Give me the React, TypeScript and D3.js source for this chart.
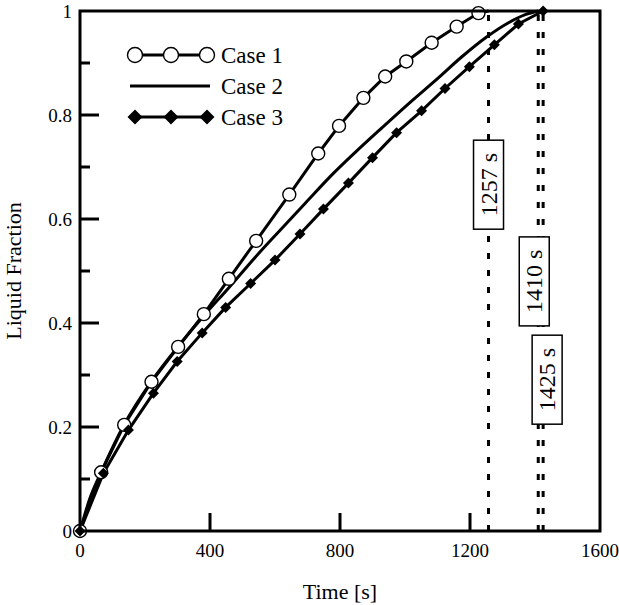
import React from "react";
import * as d3 from "d3";

// Case 1 (open circles)
const case1Time = [0, 65, 136, 220, 302, 381, 458, 542, 644, 733, 797, 872, 939, 1004, 1082, 1159, 1226, 1257];
const case1Frac = [0, 0.113, 0.204, 0.287, 0.354, 0.417, 0.485, 0.558, 0.647, 0.726, 0.779, 0.833, 0.874, 0.903, 0.939, 0.97, 0.996, 1];

// Case 2 (plain line)
const case2Time = [0, 30, 65, 136, 220, 302, 381, 458, 540, 615, 700, 769, 850, 923, 1015, 1100, 1175, 1251, 1320, 1370, 1410];
const case2Frac = [0, 0.062, 0.113, 0.205, 0.288, 0.355, 0.414, 0.468, 0.527, 0.578, 0.635, 0.681, 0.73, 0.772, 0.824, 0.87, 0.912, 0.95, 0.978, 0.993, 1];

// Case 3 (filled diamonds)
const case3Time = [0, 72, 149, 226, 299, 376, 448, 525, 600, 677, 749, 826, 900, 974, 1051, 1123, 1198, 1275, 1349, 1425];
const case3Frac = [0, 0.111, 0.194, 0.265, 0.326, 0.381, 0.43, 0.476, 0.521, 0.571, 0.619, 0.669, 0.718, 0.766, 0.808, 0.851, 0.893, 0.935, 0.975, 1];

const legendNames = ["Case 1", "Case 2", "Case 3"];

const endTimes = [1257, 1410, 1425];
const endLabels = ["1257 s", "1410 s", "1425 s"];

const xTicks = [0, 400, 800, 1200, 1600];
const yTicks = [0, 0.2, 0.4, 0.6, 0.8, 1];
const yMinorTicks = [0.1, 0.3, 0.5, 0.7, 0.9];

const W = 619;
const H = 605;
const left = 80;
const right = 600;
const top = 11;
const bottom = 531;
const FONT = "'Liberation Serif', 'Times New Roman', serif";

// box placement for the end-time labels: x shift from the line (px), y in data units
const boxLayout = [
  { dx: 0, y: 0.666 },
  { dx: -4, y: 0.48 },
  { dx: 4, y: 0.291 },
];

type Pt = [number, number];
const zip = (t: number[], f: number[]): Pt[] => t.map((v, i) => [v, f[i]]);

function Diamond({ cx, cy, r }: { cx: number; cy: number; r: number }) {
  return <path d={`M${cx},${cy - r}L${cx + r},${cy}L${cx},${cy + r}L${cx - r},${cy}Z`} fill="#000" />;
}

export default function App() {
  const x = d3.scaleLinear().domain([0, 1600]).range([left, right]);
  const y = d3.scaleLinear().domain([0, 1]).range([bottom, top]);

  const s1 = zip(case1Time, case1Frac);
  const s2 = zip(case2Time, case2Frac);
  const s3 = zip(case3Time, case3Frac);

  const straight = d3.line<Pt>().x((d) => x(d[0])).y((d) => y(d[1]));
  const smooth = d3
    .line<Pt>()
    .x((d) => x(d[0]))
    .y((d) => y(d[1]))
    .curve(d3.curveMonotoneX);

  const legendY = [55, 86, 117];
  const legendMarkX = [135, 171, 207];

  return (
    <svg
      width={W}
      height={H}
      style={{ position: "absolute", left: 0, top: 0, background: "#fff" }}
      fontFamily={FONT}
    >
      {/* end-time dashed lines */}
      {endTimes.map((t) => (
        <line
          key={t}
          x1={x(t)}
          x2={x(t)}
          y1={y(0)}
          y2={y(1)}
          stroke="#000"
          strokeWidth={3}
          strokeDasharray="6,11"
        />
      ))}

      {/* series */}
      <path d={straight(s1) ?? ""} fill="none" stroke="#000" strokeWidth={3} />
      <path d={smooth(s2) ?? ""} fill="none" stroke="#000" strokeWidth={3} />
      <path d={straight(s3) ?? ""} fill="none" stroke="#000" strokeWidth={3} />

      {s1.slice(0, -1).map((d, i) => (
        <circle key={i} cx={x(d[0])} cy={y(d[1])} r={6.5} fill="#fff" stroke="#000" strokeWidth={1.4} />
      ))}
      {s3.map((d, i) => (
        <Diamond key={i} cx={x(d[0])} cy={y(d[1])} r={5.5} />
      ))}

      {/* label boxes */}
      {endTimes.map((t, i) => {
        const cx = x(t) + boxLayout[i].dx;
        const cy = y(boxLayout[i].y);
        return (
          <g key={t}>
            <rect x={cx - 15} y={cy - 44.5} width={30} height={89} fill="#fff" stroke="#000" strokeWidth={1.5} />
            <text
              transform={`translate(${cx},${cy}) rotate(-90)`}
              textAnchor="middle"
              dominantBaseline="central"
              fontSize={24}
            >
              {endLabels[i]}
            </text>
          </g>
        );
      })}

      {/* frame */}
      <rect x={left} y={top} width={right - left} height={bottom - top} fill="none" stroke="#000" strokeWidth={3} />

      {/* ticks */}
      {xTicks.slice(1, -1).map((t) => (
        <line key={t} x1={x(t)} x2={x(t)} y1={bottom} y2={bottom - 18} stroke="#000" strokeWidth={3} />
      ))}
      {yTicks.slice(1, -1).map((t) => (
        <line key={t} x1={left} x2={left + 19} y1={y(t)} y2={y(t)} stroke="#000" strokeWidth={3} />
      ))}
      {yMinorTicks.map((t) => (
        <line key={t} x1={left} x2={left + 10} y1={y(t)} y2={y(t)} stroke="#000" strokeWidth={3} />
      ))}

      {/* tick labels */}
      {xTicks.map((t) => (
        <text key={t} x={x(t)} y={557} textAnchor="middle" fontSize={19}>
          {t}
        </text>
      ))}
      {yTicks.map((t) => (
        <text key={t} x={72} y={y(t)} textAnchor="end" dominantBaseline="central" fontSize={19}>
          {+t.toFixed(1)}
        </text>
      ))}

      {/* axis titles */}
      <text x={(left + right) / 2} y={599} textAnchor="middle" fontSize={22}>
        Time [s]
      </text>
      <text
        transform={`translate(21,${(top + bottom) / 2}) rotate(-90)`}
        textAnchor="middle"
        fontSize={22}
      >
        Liquid Fraction
      </text>

      {/* legend */}
      {legendNames.map((name, i) => (
        <g key={name}>
          <line
            x1={i === 1 ? 130 : 135}
            x2={i === 1 ? 210 : 207}
            y1={legendY[i]}
            y2={legendY[i]}
            stroke="#000"
            strokeWidth={3}
          />
          {i === 0 &&
            legendMarkX.map((mx) => (
              <circle key={mx} cx={mx} cy={legendY[i]} r={7.5} fill="#fff" stroke="#000" strokeWidth={1.4} />
            ))}
          {i === 2 && legendMarkX.map((mx) => <Diamond key={mx} cx={mx} cy={legendY[i]} r={7.5} />)}
          <text x={221} y={legendY[i] + 8} fontSize={23}>
            {name}
          </text>
        </g>
      ))}
    </svg>
  );
}
